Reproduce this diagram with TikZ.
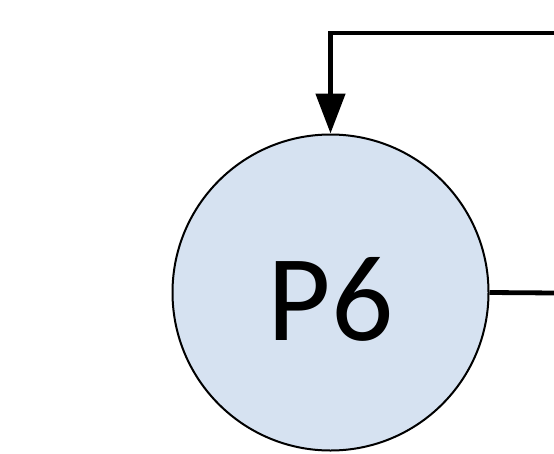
\documentclass[tikz,border=0pt]{standalone}
\usepackage{fontspec}
\setmainfont{Carlito}
\usetikzlibrary{arrows.meta}
\definecolor{procfill}{RGB}{214,226,241}
\tikzset{
  proc/.style={circle, draw=black, line width=2pt, fill=procfill, minimum size=316pt, inner sep=0pt,
    font=\fontsize{123}{123}\selectfont},
  conn/.style={draw=black, line width=4.8pt},
  arrowend/.style={-{Triangle[length=40pt,width=29pt]}}
}
\begin{document}
\begin{tikzpicture}[x=1pt,y=-1pt]
\useasboundingbox (0,0) rectangle (554,453);
\node[proc] (p6) at (330.5,292.5) {\raisebox{-6pt}[\height][0pt]{P6}};
\coordinate (topin) at (556,33);
\coordinate (rightout) at (556,293);
\draw[conn, arrowend] (topin) -| (p6.north);
\draw[conn] (p6.east) -- (rightout);
\end{tikzpicture}
\end{document}
